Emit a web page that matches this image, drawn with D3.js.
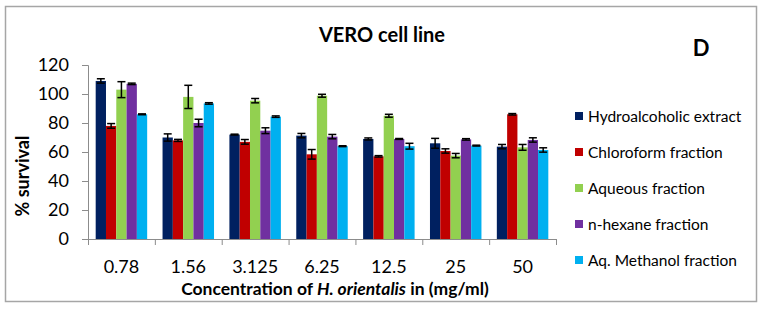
<!DOCTYPE html>
<html>
<head>
<meta charset="utf-8">
<script src="https://cdn.jsdelivr.net/npm/d3@7"></script>
<style>
  body { margin: 0; background: #fff; }
  text { font-family: Lato, "Open Sans", sans-serif; }
</style>
</head>
<body>
<svg id="chart" width="766" height="309"></svg>
<script>
const concentrations = ["0.78", "1.56", "3.125", "6.25", "12.5", "25", "50"];
const seriesNames = ["Hydroalcoholic extract", "Chloroform fraction", "Aqueous fraction",
                     "n-hexane fraction", "Aq. Methanol fraction"];
const seriesColors = ["#002060", "#c00000", "#92d050", "#7030a0", "#00b0f0"];

// mean % survival, one array per series (index = concentration)
const hydroVals   = [109, 70, 72, 71.3, 69, 66, 63.7];
const chloroVals  = [78, 68, 67, 58.4, 57, 60.7, 86];
const aqueousVals = [103, 98, 95.4, 98.8, 85, 57.5, 63.2];
const hexaneVals  = [107, 80, 74.7, 70.6, 69, 68.7, 68.3];
const aqMethVals  = [86, 93.5, 84.4, 64, 64, 64.4, 61.4];

// error bar half-widths
const hydroErr   = [1.5, 2.5, 0.3, 1.5, 0.7, 3.4, 1.5];
const chloroErr  = [1.6, 0.7, 1.6, 3.3, 0.5, 1.5, 0.5];
const aqueousErr = [5.5, 8, 1.5, 1, 1, 1.5, 2];
const hexaneErr  = [0.5, 2.6, 2, 1.5, 0.3, 0.5, 1.5];
const aqMethErr  = [0.3, 0.5, 0.5, 0.3, 2, 0.3, 1.5];

const yTicks = [0, 20, 40, 60, 80, 100, 120];

const allVals = [hydroVals, chloroVals, aqueousVals, hexaneVals, aqMethVals];
const allErr = [hydroErr, chloroErr, aqueousErr, hexaneErr, aqMethErr];

const svg = d3.select("#chart");
const plot = { left: 88, right: 556, top: 65, bottom: 239 };

// outer border
svg.append("rect")
    .attr("x", 5.5).attr("y", 6.5)
    .attr("width", 751).attr("height", 295)
    .attr("fill", "#fff")
    .attr("stroke", "#a6a6a6")
    .attr("stroke-width", 1.5);

const x0 = d3.scaleBand()
    .domain(concentrations)
    .range([plot.left, plot.right])
    .paddingInner(0.23)
    .paddingOuter(0.115);
const x1 = d3.scaleBand()
    .domain(d3.range(seriesNames.length))
    .range([0, x0.bandwidth()]);
const y = d3.scaleLinear().domain([0, 120]).range([plot.bottom, plot.top]);

// y axis
const yAxis = svg.append("g")
    .attr("transform", `translate(${plot.left},0)`)
    .call(d3.axisLeft(y).tickValues(yTicks).tickSize(6).tickPadding(13));
yAxis.select(".domain").attr("stroke", "#8c8c8c");
yAxis.selectAll(".tick line").attr("stroke", "#8c8c8c");
yAxis.selectAll(".tick text")
    .attr("font-size", 18)
    .attr("fill", "#000")
    .style("font-family", "Lato, sans-serif");

// x axis: ticks at category boundaries
const step = (plot.right - plot.left) / concentrations.length;
const xAxisG = svg.append("g");
xAxisG.append("line")
    .attr("x1", plot.left).attr("x2", plot.right)
    .attr("y1", plot.bottom + 0.5).attr("y2", plot.bottom + 0.5)
    .attr("stroke", "#8c8c8c");
xAxisG.selectAll(".xt")
    .data(d3.range(concentrations.length + 1))
    .join("line")
    .attr("class", "xt")
    .attr("x1", i => plot.left + i * step + 0.5)
    .attr("x2", i => plot.left + i * step + 0.5)
    .attr("y1", plot.bottom)
    .attr("y2", plot.bottom + 6)
    .attr("stroke", "#8c8c8c");
xAxisG.selectAll(".xl")
    .data(concentrations)
    .join("text")
    .attr("class", "xl")
    .attr("x", d => x0(d) + x0.bandwidth() / 2)
    .attr("y", 273)
    .attr("text-anchor", "middle")
    .attr("font-size", 18)
    .text(d => d);

// bars
const groups = svg.append("g").selectAll("g")
    .data(concentrations)
    .join("g")
    .attr("transform", d => `translate(${x0(d)},0)`);

groups.selectAll("rect")
    .data((d, ci) => allVals.map((vals, si) => ({ si, v: vals[ci], e: allErr[si][ci] })))
    .join("rect")
    .attr("x", d => x1(d.si))
    .attr("y", d => y(d.v))
    .attr("width", x1.bandwidth())
    .attr("height", d => y(0) - y(d.v))
    .attr("fill", d => seriesColors[d.si]);

// error bars
const eb = groups.selectAll("g.err")
    .data((d, ci) => allVals.map((vals, si) => ({ si, v: vals[ci], e: allErr[si][ci] })))
    .join("g")
    .attr("class", "err")
    .attr("stroke", "#000")
    .attr("stroke-width", 1.5);
eb.append("line")
    .attr("x1", d => x1(d.si) + x1.bandwidth() / 2)
    .attr("x2", d => x1(d.si) + x1.bandwidth() / 2)
    .attr("y1", d => y(d.v - d.e))
    .attr("y2", d => y(d.v + d.e));
[-1, 1].forEach(sign => {
    eb.append("line")
        .attr("x1", d => x1(d.si) + x1.bandwidth() / 2 - 4)
        .attr("x2", d => x1(d.si) + x1.bandwidth() / 2 + 4)
        .attr("y1", d => y(d.v + sign * d.e))
        .attr("y2", d => y(d.v + sign * d.e));
});

// titles
svg.append("text")
    .attr("x", 382).attr("y", 42)
    .attr("text-anchor", "middle")
    .attr("font-size", 20)
    .attr("font-weight", "bold")
    .text("VERO cell line");

svg.append("text")
    .attr("x", 701).attr("y", 56)
    .attr("text-anchor", "middle")
    .attr("font-size", 22)
    .attr("font-weight", "bold")
    .text("D");

svg.append("text")
    .attr("transform", "translate(29,176) rotate(-90)")
    .attr("text-anchor", "middle")
    .attr("font-size", 18)
    .attr("font-weight", "bold")
    .text("% survival");

const xt = svg.append("text")
    .attr("x", 335).attr("y", 295)
    .attr("text-anchor", "middle")
    .attr("font-size", 17.5)
    .attr("font-weight", "bold");
xt.append("tspan").text("Concentration of ");
xt.append("tspan").attr("font-style", "italic").text("H. orientalis");
xt.append("tspan").text(" in (mg/ml)");

// legend
const legend = svg.append("g").selectAll("g")
    .data(seriesNames)
    .join("g")
    .attr("transform", (d, i) => `translate(575,${116 + i * 36})`);
legend.append("rect")
    .attr("x", 0).attr("y", -4)
    .attr("width", 8).attr("height", 8)
    .attr("fill", (d, i) => seriesColors[i]);
legend.append("text")
    .attr("x", 13).attr("y", 5.5)
    .attr("font-size", 15.5)
    .text(d => d);
</script>
</body>
</html>
